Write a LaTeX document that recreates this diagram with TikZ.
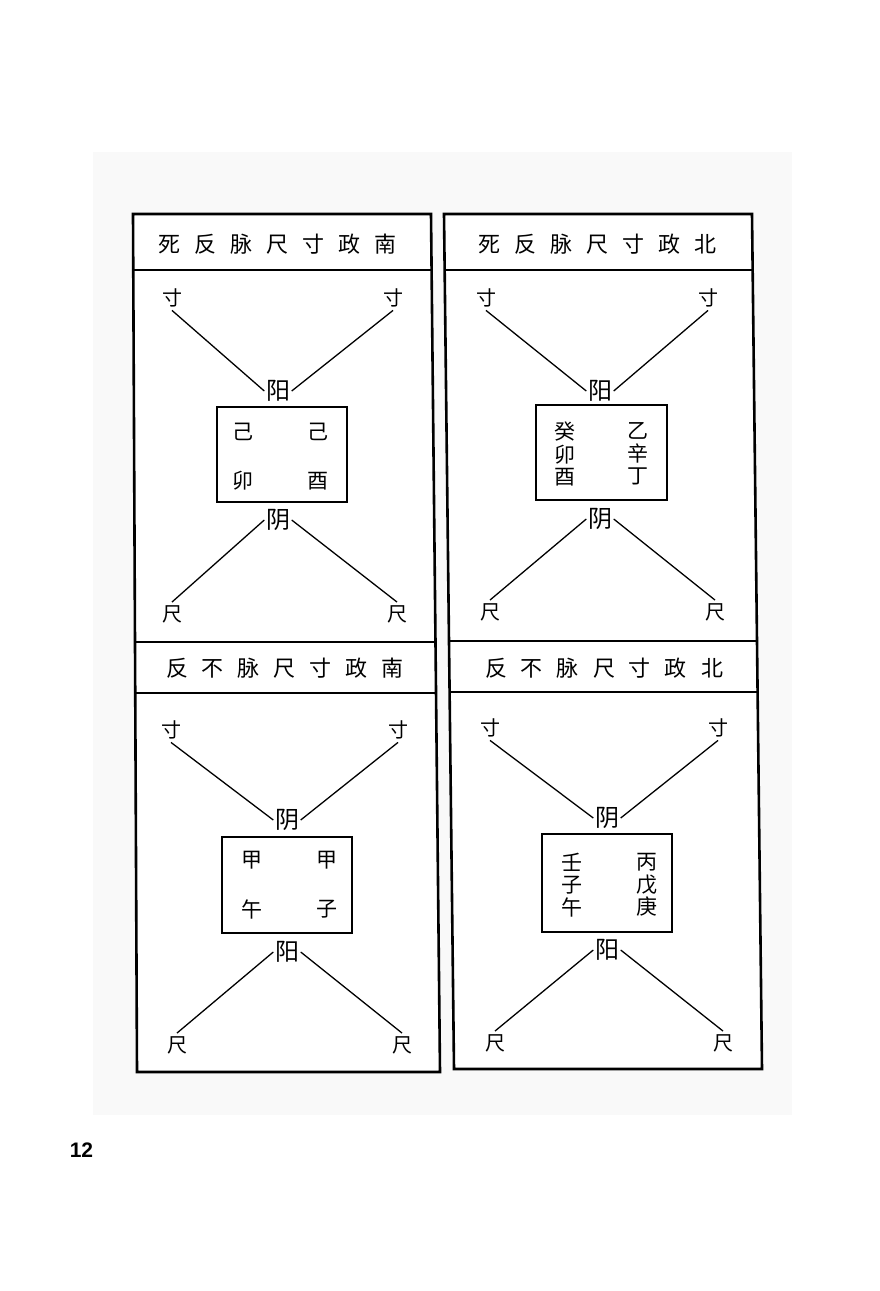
\documentclass[tikz,border=0pt]{standalone}
\usepackage{fontspec}
\setmainfont{Noto Sans CJK SC}
\newfontfamily\numfont{Liberation Sans}
\def\g{\hspace{14pt}}
\begin{document}
\begin{tikzpicture}[x=1pt,y=-1pt,
  frame/.style={line width=2.6pt, line join=miter},
  sepline/.style={line width=1.8pt},
  midline/.style={line width=2.6pt},
  innerbox/.style={draw, line width=1.6pt, inner sep=0pt},
  conn/.style={line width=1.3pt},
  ttl/.style={font=\fontsize{22}{22}\selectfont, inner sep=0pt},
  lbl/.style={font=\fontsize{20}{20}\selectfont, inner sep=3pt},
  yy/.style={font=\fontsize{24}{24}\selectfont, inner sep=1.5pt},
  stem/.style={font=\fontsize{21}{21}\selectfont, inner sep=0pt},
  stack/.style={font=\fontsize{21}{22.5}\selectfont, inner sep=0pt, align=center}]
\useasboundingbox (0,0) rectangle (879,1291);
\fill[white] (0,0) rectangle (879,1291);
\fill[black!2.5] (93,152) rectangle (792,1115);

% ---- column frames ----
\draw[frame,fill=white] (133,214) -- (431,214) -- (440,1072) -- (137,1072) -- cycle;
\draw[frame,fill=white] (444,214) -- (752,214) -- (762,1069) -- (454,1069) -- cycle;
\draw[sepline] (133,270) -- (431.6,270);
\draw[midline] (135,642) -- (435.5,642);
\draw[sepline] (136,693) -- (436,693);
\draw[sepline] (444,270) -- (752.6,270);
\draw[midline] (448,641) -- (757,641);
\draw[sepline] (449,692) -- (757.5,692);

% ---- top left ----
\node[ttl] (tl-t) at (277.5,244) {死\g 反\g 脉\g 尺\g 寸\g 政\g 南};
\node[lbl] (tl-c1) at (172,298) {寸};
\node[lbl] (tl-c2) at (393,298) {寸};
\node[yy] (tl-y) at (278,391) {阳};
\node[innerbox, minimum width=130, minimum height=95] (tl-box) at (282,454.5) {};
\node[stem] (tl-s1) at (243,432) {己};
\node[stem] (tl-s2) at (318,432) {己};
\node[stem] (tl-s3) at (243,481) {卯};
\node[stem] (tl-s4) at (318,481) {酉};
\node[yy] (tl-n) at (278,520) {阴};
\node[lbl] (tl-r1) at (172,614) {尺};
\node[lbl] (tl-r2) at (397,614) {尺};
\draw[conn] (tl-c1.south) -- (tl-y.west);
\draw[conn] (tl-c2.south) -- (tl-y.east);
\draw[conn] (tl-n.west) -- (tl-r1.north);
\draw[conn] (tl-n.east) -- (tl-r2.north);

% ---- top right ----
\node[ttl] (tr-t) at (597.5,244) {死\g 反\g 脉\g 尺\g 寸\g 政\g 北};
\node[lbl] (tr-c1) at (486,298) {寸};
\node[lbl] (tr-c2) at (708,298) {寸};
\node[yy] (tr-y) at (600,391) {阳};
\node[innerbox, minimum width=131, minimum height=95] (tr-box) at (601.5,452.5) {};
\node[stack] (tr-s1) at (565,454) {癸\\卯\\酉};
\node[stack] (tr-s2) at (638,454) {乙\\辛\\丁};
\node[yy] (tr-n) at (600,519) {阴};
\node[lbl] (tr-r1) at (490,612) {尺};
\node[lbl] (tr-r2) at (715,612) {尺};
\draw[conn] (tr-c1.south) -- (tr-y.west);
\draw[conn] (tr-c2.south) -- (tr-y.east);
\draw[conn] (tr-n.west) -- (tr-r1.north);
\draw[conn] (tr-n.east) -- (tr-r2.north);

% ---- bottom left ----
\node[ttl] (bl-t) at (285,668) {反\g 不\g 脉\g 尺\g 寸\g 政\g 南};
\node[lbl] (bl-c1) at (171,730) {寸};
\node[lbl] (bl-c2) at (398,730) {寸};
\node[yy] (bl-n) at (287,820) {阴};
\node[innerbox, minimum width=130, minimum height=96] (bl-box) at (287,885) {};
\node[stem] (bl-s1) at (252,860) {甲};
\node[stem] (bl-s2) at (327,860) {甲};
\node[stem] (bl-s3) at (252,909) {午};
\node[stem] (bl-s4) at (327,909) {子};
\node[yy] (bl-y) at (287,952) {阳};
\node[lbl] (bl-r1) at (177,1045) {尺};
\node[lbl] (bl-r2) at (402,1045) {尺};
\draw[conn] (bl-c1.south) -- (bl-n.west);
\draw[conn] (bl-c2.south) -- (bl-n.east);
\draw[conn] (bl-y.west) -- (bl-r1.north);
\draw[conn] (bl-y.east) -- (bl-r2.north);

% ---- bottom right ----
\node[ttl] (br-t) at (604,668) {反\g 不\g 脉\g 尺\g 寸\g 政\g 北};
\node[lbl] (br-c1) at (490,728) {寸};
\node[lbl] (br-c2) at (718,728) {寸};
\node[yy] (br-n) at (607,818) {阴};
\node[innerbox, minimum width=130, minimum height=98] (br-box) at (607,883) {};
\node[stack] (br-s1) at (572,885) {壬\\子\\午};
\node[stack] (br-s2) at (647,885) {丙\\戊\\庚};
\node[yy] (br-y) at (607,950) {阳};
\node[lbl] (br-r1) at (495,1043) {尺};
\node[lbl] (br-r2) at (723,1043) {尺};
\draw[conn] (br-c1.south) -- (br-n.west);
\draw[conn] (br-c2.south) -- (br-n.east);
\draw[conn] (br-y.west) -- (br-r1.north);
\draw[conn] (br-y.east) -- (br-r2.north);

% ---- page number ----
\node[font=\numfont\bfseries\fontsize{21}{21}\selectfont, inner sep=0pt] (pg) at (81.5,1150) {12};
\end{tikzpicture}
\end{document}
